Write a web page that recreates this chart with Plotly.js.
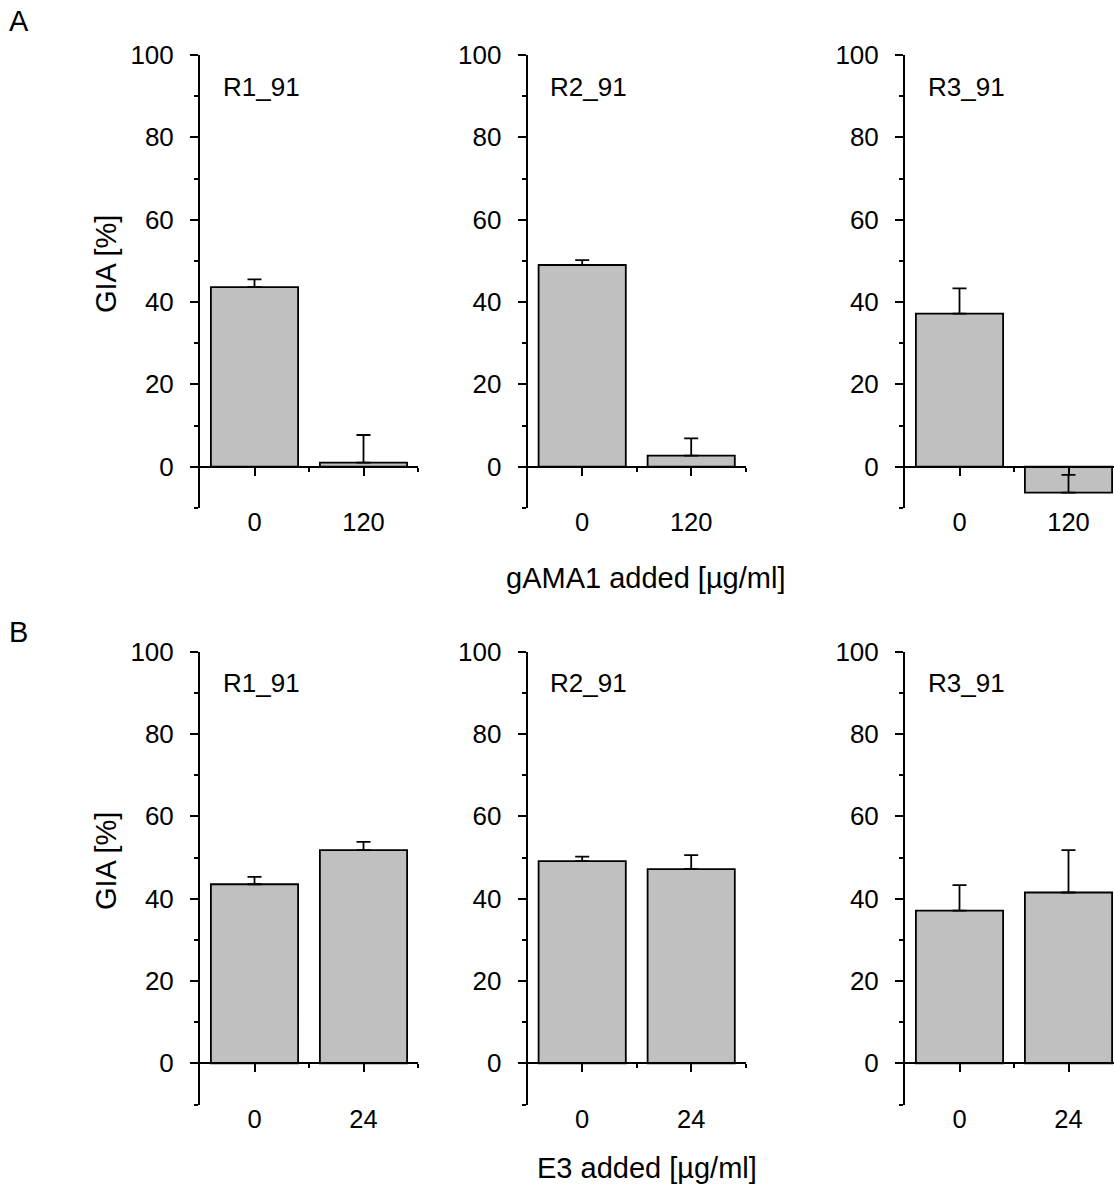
<!DOCTYPE html>
<html>
<head>
<meta charset="utf-8">
<script src="https://cdn.plot.ly/plotly-3.0.1.min.js"></script>
<style>html,body{margin:0;padding:0;background:#fff;}#chart{width:1114px;height:1187px;}</style>
</head>
<body>
<div id="chart"></div>
<script>
// ---- data ----
const doseA = ['0', '120'];            // gAMA1 added [µg/ml]
const doseB = ['0', '24'];             // E3 added [µg/ml]
const strains = ['R1_91', 'R2_91', 'R3_91'];

const giaA_R1 = [43.6, 1.0];  const errA_R1 = [1.9, 6.7];
const giaA_R2 = [49.0, 2.7];  const errA_R2 = [1.2, 4.2];
const giaA_R3 = [37.2, -6.3]; const errA_R3 = [6.1, 4.3];

const giaB_R1 = [43.5, 51.8]; const errB_R1 = [1.8, 2.0];
const giaB_R2 = [49.1, 47.2]; const errB_R2 = [1.1, 3.4];
const giaB_R3 = [37.1, 41.5]; const errB_R3 = [6.2, 10.3];

const yTicks = [0, 20, 40, 60, 80, 100];

// ---- layout geometry ----
const W = 1114, H = 1187;
const FONT = 'Liberation Sans, Arial, sans-serif';
const colPx = [[200, 418], [527.7, 745.7], [905, 1114]];
const rowPx = [[55, 507.9], [651.7, 1104.5]];   // top, bottom
const yRange = [-10, 100];
const catW = 109; // px per category

const panels = [
  {row: 0, col: 0, y: giaA_R1, e: errA_R1, cats: doseA},
  {row: 0, col: 1, y: giaA_R2, e: errA_R2, cats: doseA},
  {row: 0, col: 2, y: giaA_R3, e: errA_R3, cats: doseA},
  {row: 1, col: 0, y: giaB_R1, e: errB_R1, cats: doseB},
  {row: 1, col: 1, y: giaB_R2, e: errB_R2, cats: doseB},
  {row: 1, col: 2, y: giaB_R3, e: errB_R3, cats: doseB}
];

const data = [];
const layout = {
  width: W, height: H,
  margin: {l: 0, r: 0, t: 0, b: 0},
  paper_bgcolor: '#fff', plot_bgcolor: 'rgba(0,0,0,0)',
  showlegend: false,
  font: {family: FONT, color: '#000', size: 24},
  annotations: []
};

panels.forEach((p, i) => {
  const n = i + 1;
  const xa = 'xaxis' + (n === 1 ? '' : n), ya = 'yaxis' + (n === 1 ? '' : n);
  const xr = 'x' + (n === 1 ? '' : n), yr = 'y' + (n === 1 ? '' : n);
  const cx = colPx[p.col], ry = rowPx[p.row];
  const xd = [cx[0] / W, Math.min(1, cx[1] / W)];
  const yd = [1 - ry[1] / H, 1 - ry[0] / H];
  const xmax = -0.5 + (Math.min(cx[1], W) - cx[0]) / catW;
  const zeroPos = yd[0] + (yd[1] - yd[0]) * (0 - yRange[0]) / (yRange[1] - yRange[0]);

  data.push({
    type: 'bar', x: [0, 1], y: p.y, width: 0.8,
    xaxis: xr, yaxis: yr,
    marker: {color: '#c0c0c0', line: {color: '#000', width: 1.8}},
    error_y: {type: 'data', symmetric: false, array: p.e, arrayminus: [0, 0],
              color: '#000', thickness: 1.8, width: 7},
    hoverinfo: 'none'
  });

  layout[xa] = {
    domain: xd, range: [-0.5, xmax], anchor: 'free', position: zeroPos,
    showline: true, linecolor: '#000', linewidth: 2,
    showgrid: false, zeroline: false,
    tickmode: 'array', tickvals: [0, 1], ticktext: p.cats,
    ticks: 'outside', ticklen: 8, tickwidth: 2, tickcolor: '#000',
    ticklabelstandoff: 25,
    minor: {tickmode: 'array', tickvals: [0.5, 1.5], ticks: 'outside', ticklen: 4, tickwidth: 2, tickcolor: '#000'},
    tickfont: {family: FONT, size: 25.5, color: '#000'},
    fixedrange: true
  };
  layout[ya] = {
    domain: yd, range: yRange, anchor: xr,
    showline: true, linecolor: '#000', linewidth: 2,
    showgrid: false, zeroline: false,
    tickmode: 'array', tickvals: yTicks,
    ticks: 'outside', ticklen: 8, tickwidth: 2, tickcolor: '#000',
    minor: {tickmode: 'linear', tick0: -10, dtick: 10, ticks: 'outside', ticklen: 4, tickwidth: 2, tickcolor: '#000'},
    tickfont: {family: FONT, size: 26, color: '#000'},
    ticklabelstandoff: 11,
    fixedrange: true
  };

  layout.annotations.push({
    xref: xr, yref: yr, x: -0.31, y: 92.3, xanchor: 'left', yanchor: 'middle',
    text: strains[p.col], showarrow: false, font: {family: FONT, size: 26, color: '#000'}
  });
});

// axis titles and panel letters
const paperAnn = [
  {x: 19, y: 21, text: 'A', size: 29},
  {x: 18, y: 632, text: 'B', size: 29},
  {x: 645, y: 578, text: 'gAMA1 added [µg/ml]', size: 29},
  {x: 647, y: 1168, text: 'E3 added [µg/ml]', size: 29},
  {x: 106, y: 264, text: 'GIA [%]', size: 29, angle: -90},
  {x: 106, y: 861, text: 'GIA [%]', size: 29, angle: -90}
];
paperAnn.forEach(a => layout.annotations.push({
  xref: 'paper', yref: 'paper', x: a.x / W, y: 1 - a.y / H,
  xanchor: 'center', yanchor: 'middle', text: a.text, showarrow: false,
  textangle: a.angle || 0, font: {family: FONT, size: a.size, color: '#000'}
}));

Plotly.newPlot('chart', data, layout, {staticPlot: true});
</script>
</body>
</html>
